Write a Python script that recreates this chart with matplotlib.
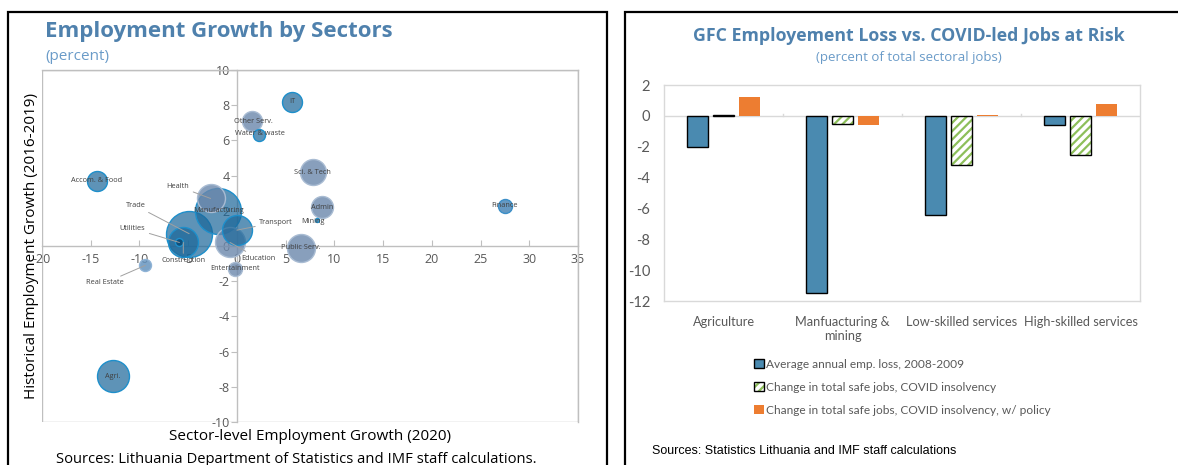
import numpy as np
import matplotlib
matplotlib.use("Agg")
from matplotlib import pyplot as plt
from matplotlib.patches import Rectangle, Patch

plt.rcParams['font.family'] = ['Open Sans', 'DejaVu Sans']
plt.rcParams['hatch.linewidth'] = 1.6

# ---- left chart data: sector bubbles ----
sectors = ["IT", "Other Serv.", "Water & waste", "Sci. & Tech", "Admin", "Mining",
           "Finance", "Public Serv.", "Accom. & Food", "Agri.", "Real Estate",
           "Trade", "Manufacturing", "Construction", "Health", "Education",
           "Transport", "Entertainment", "Utilities"]
growth_2020 = [5.7, 1.5, 2.3, 7.8, 8.7, 8.2, 27.5, 6.6, -14.4, -12.7, -9.4,
               -4.9, -1.9, -5.5, -2.7, -0.7, 0.0, -0.2, -5.9]
growth_hist = [8.2, 7.1, 6.3, 4.2, 2.2, 1.5, 2.3, -0.1, 3.7, -7.4, -1.1,
               0.7, 2.0, 0.2, 2.7, 0.2, 0.9, -1.3, 0.2]
emp_weight = [100, 100, 36, 169, 121, 4, 49, 196, 100, 256, 36,
              529, 529, 225, 196, 225, 225, 49, 16]
bubble_kind = ["b", "g", "b", "g", "g", "b", "m", "g", "b", "b", "l",
               "b", "b", "b", "g", "g", "b", "g", "d"]

# ---- right chart data ----
groups = ["Agriculture", "Manfuacturing &\nmining", "Low-skilled services", "High-skilled services"]
gfc_loss = [-2.05, -11.45, -6.4, -0.6]
covid_safe = [0.05, -0.55, -3.2, -2.55]
covid_policy = [1.2, -0.6, 0.05, 0.75]
series_names = ["Average annual emp. loss, 2008-2009",
                "Change in total safe jobs, COVID insolvency",
                "Change in total safe jobs, COVID insolvency, w/ policy"]

W, H = 1178, 465
fig = plt.figure(figsize=(W / 100, H / 100), dpi=100)

def px(x0, y0, x1, y1):
    return [x0 / W, 1 - y1 / H, (x1 - x0) / W, (y1 - y0) / H]

title_blue = "#4F81AD"
tick_gray = "#595959"
narrow = ["Lato", "DejaVu Sans"]

# panel borders
fig.add_artist(Rectangle((8 / W, -0.05), 599 / W, 1.05 - 12 / H, transform=fig.transFigure,
                         fill=False, edgecolor="black", linewidth=1.6))
fig.add_artist(Rectangle((625 / W, -0.05), 0.6, 1.05 - 12 / H, transform=fig.transFigure,
                         fill=False, edgecolor="black", linewidth=1.6))

# ================= left: bubble chart =================
ax = fig.add_axes(px(42, 70, 578, 422))
styles = {
    "b": dict(fc=(0.10, 0.40, 0.60, 0.70), ec="#1E8FCB"),
    "d": dict(fc=(0.05, 0.30, 0.48, 0.95), ec="#1E8FCB"),
    "m": dict(fc=(0.25, 0.50, 0.70, 0.80), ec="#3C8FC8"),
    "g": dict(fc=(0.42, 0.53, 0.67, 0.80), ec="#A9BCD3"),
    "l": dict(fc=(0.40, 0.58, 0.75, 0.85), ec="#8FB3D6"),
}
for i in range(len(sectors)):
    st = styles[bubble_kind[i]]
    ax.scatter(growth_2020[i], growth_hist[i], s=emp_weight[i] * 2.07,
               facecolor=st["fc"], edgecolor=st["ec"], linewidth=1.0, zorder=3)

ax.set_xlim(-20, 35)
ax.set_ylim(-10, 10)
ax.spines['left'].set_position(('data', 0))
ax.spines['bottom'].set_position(('data', 0))
for s in ['left', 'bottom', 'top', 'right']:
    ax.spines[s].set_color("#BFBFBF")
    ax.spines[s].set_linewidth(1.0)
ax.add_patch(Rectangle((0, 0), 1, 1, transform=ax.transAxes, fill=False,
                       edgecolor="#BFBFBF", linewidth=1.0, zorder=1))
ax.set_xticks(np.arange(-20, 36, 5))
ax.set_yticks(np.arange(-10, 11, 2))
ax.set_xticklabels([str(v) for v in range(-20, 36, 5)])
ax.set_yticklabels([str(v) for v in range(-10, 11, 2)])
ax.tick_params(axis='x', direction='in', length=4, color="#BFBFBF", labelsize=9,
               labelcolor=tick_gray, pad=5)
ax.tick_params(axis='y', direction='out', length=4, color="#BFBFBF", labelsize=9,
               labelcolor=tick_gray, pad=1)

lab_kw = dict(fontsize=5.3, color="#404040", zorder=5)
centered = ["IT", "Sci. & Tech", "Admin", "Finance", "Public Serv.", "Accom. & Food",
            "Agri.", "Manufacturing", "Entertainment"]
for i, name in enumerate(sectors):
    if name in centered:
        ax.text(growth_2020[i], growth_hist[i], name, ha="center", va="center", **lab_kw)
ax.text(-0.3, 7.1, "Other Serv.", ha="left", va="center", **lab_kw)
ax.text(-0.2, 6.4, "Water & waste", ha="left", va="center", **lab_kw)
ax.text(7.8, 1.4, "Mining", ha="center", va="center", **lab_kw)

# labels with leader lines: (name, text x, text y, ha)
leaders = [("Health", -4.9, 3.4, "right"), ("Trade", -9.4, 2.3, "right"),
           ("Utilities", -9.4, 1.0, "right"), ("Construction", -5.5, -0.85, "center"),
           ("Transport", 2.3, 1.35, "left"), ("Education", 0.4, -0.7, "left"),
           ("Real Estate", -11.6, -2.1, "right")]
for name, tx, ty, ha in leaders:
    i = sectors.index(name)
    ax.annotate(name, xy=(growth_2020[i], growth_hist[i]), xytext=(tx, ty),
                ha=ha, va="center",
                arrowprops=dict(arrowstyle="-", color="#A0A0A0", lw=0.7,
                                shrinkA=1, shrinkB=0), **lab_kw)

fig.text(45 / W, 1 - 31 / H, "Employment Growth by Sectors", fontsize=16, fontweight="bold",
         color=title_blue, ha="left", va="center")
fig.text(45 / W, 1 - 56 / H, "(percent)", fontsize=11, color="#6A9BC8", ha="left", va="center")
fig.text(32 / W, 1 - 246 / H, "Historical Employment Growth (2016-2019)", rotation=90,
         fontsize=11, color="black", ha="center", va="center")
fig.text(310 / W, 1 - 436 / H, "Sector-level Employment Growth (2020)", fontsize=11,
         color="black", ha="center", va="center")
fig.text(56 / W, 1 - 459 / H, "Sources: Lithuania Department of Statistics and IMF staff calculations.",
         fontsize=10.6, color="black", ha="left", va="center")

# ================= right: bar chart =================
bx = fig.add_axes(px(664, 85, 1140, 301))
xpos = np.arange(len(groups))
bw = 0.18
off = 0.22
green = "#8DBF5A"
bx.bar(xpos - off, gfc_loss, bw, color="#4A8AB0", edgecolor="black", linewidth=1.0,
       zorder=3)
plt.rcParams['hatch.color'] = green
bx.bar(xpos, covid_safe, bw, color="white", edgecolor=green, linewidth=0,
       hatch="////", zorder=3)
bx.bar(xpos + off, covid_policy, bw, color="#ED7D31", edgecolor="none", zorder=3)
bx.bar(xpos, covid_safe, bw, color="none", edgecolor="black", linewidth=1.0, zorder=4)

bx.set_xlim(-0.5, 3.5)
bx.set_ylim(-12, 2)
bx.set_yticks(np.arange(-12, 3, 2))
bx.set_yticklabels([str(v) for v in range(-12, 3, 2)], family=narrow)
bx.set_xticks(xpos)
bx.set_xticklabels(groups, family=narrow)
bx.tick_params(axis='x', length=0, labelsize=9.2, labelcolor=tick_gray, pad=11)
bx.tick_params(axis='y', length=0, labelsize=10.5, labelcolor=tick_gray, pad=10)
for s in bx.spines.values():
    s.set_color("#D9D9D9")
    s.set_linewidth(1.0)
bx.axhline(0, color="#D9D9D9", linewidth=1.0, zorder=2)
for b in [0.5, 1.5, 2.5]:
    bx.plot([b, b], [0, 0.12], color="#D9D9D9", linewidth=1.0, zorder=2)

fig.text(909 / W, 1 - 36 / H, "GFC Employement Loss vs. COVID-led Jobs at Risk", fontsize=12.8,
         fontweight="bold", color=title_blue, ha="center", va="center")
fig.text(909 / W, 1 - 57 / H, "(percent of total sectoral jobs)", fontsize=9.5,
         color="#6A9BC8", ha="center", va="center")

handles = [Patch(facecolor="#4A8AB0", edgecolor="black", linewidth=1.0),
           (Patch(facecolor="white", edgecolor=green, hatch="////", linewidth=0),
            Patch(facecolor="none", edgecolor="black", linewidth=1.0)),
           Patch(facecolor="#ED7D31", edgecolor="none")]
fig.legend(handles, series_names, loc="upper left", bbox_to_anchor=(748 / W, 1 - 353 / H),
           frameon=False, prop=dict(family=narrow, size=8.6), labelcolor=tick_gray,
           handlelength=0.8, handleheight=0.8, handletextpad=0.2, labelspacing=1.0,
           borderpad=0)

fig.text(652 / W, 1 - 451 / H, "Sources: Statistics Lithuania and IMF staff calculations",
         fontsize=9, family=["Liberation Sans", "DejaVu Sans"], color="black",
         ha="left", va="center")

fig.savefig("out.png", dpi=100)
